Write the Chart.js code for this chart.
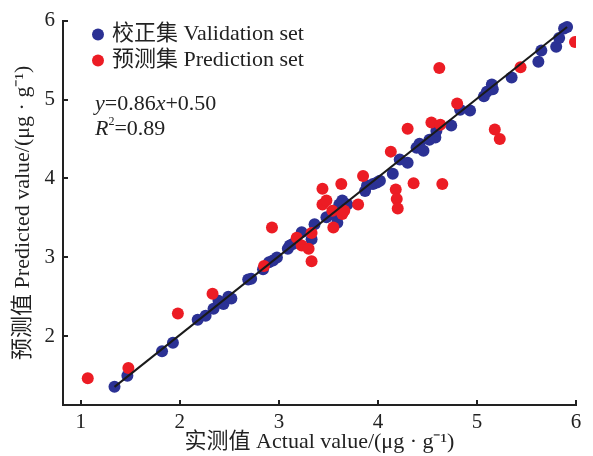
<!DOCTYPE html>
<html>
<head>
<meta charset="utf-8">
<script src="https://cdn.jsdelivr.net/npm/chart.js@4"></script>
<style>
    body { margin: 0; background: #fff; }
    #wrap { width: 593px; height: 456px; }
</style>
</head>
<body>
<div id="wrap"><canvas id="scatterChart" width="593" height="456"></canvas></div>
<script>
// Validation set (blue)
const valX = [1.34, 1.47, 1.82, 1.93, 2.18, 2.26, 2.34, 2.39, 2.44, 2.49, 2.52, 2.69, 2.72, 2.84, 2.90, 2.94, 2.98,
    3.09, 3.11, 3.14, 3.23, 3.33, 3.36, 3.48, 3.54, 3.59, 3.61, 3.64, 3.69, 3.87, 3.89, 3.95, 3.99, 4.02, 4.15,
    4.22, 4.30, 4.39, 4.42, 4.46, 4.52, 4.58, 4.59, 4.74, 4.83, 4.93, 5.07, 5.10, 5.15, 5.16, 5.35, 5.62, 5.65,
    5.80, 5.83, 5.88, 5.91];
const valY = [1.36, 1.50, 1.81, 1.92, 2.21, 2.26, 2.35, 2.45, 2.41, 2.50, 2.48, 2.72, 2.73, 2.85, 2.94, 2.96, 3.00,
    3.11, 3.15, 3.17, 3.32, 3.23, 3.42, 3.51, 3.55, 3.44, 3.67, 3.72, 3.67, 3.84, 3.91, 3.93, 3.95, 3.97, 4.06,
    4.24, 4.20, 4.39, 4.44, 4.35, 4.49, 4.52, 4.60, 4.67, 4.87, 4.86, 5.04, 5.10, 5.19, 5.13, 5.28, 5.48, 5.62,
    5.67, 5.78, 5.90, 5.92];

// Prediction set (red)
const predX = [1.07, 1.48, 1.98, 2.33, 2.85, 2.93, 3.18, 3.23, 3.30, 3.33, 3.33, 3.44, 3.44, 3.48, 3.54, 3.55,
    3.63, 3.64, 3.66, 3.80, 3.85, 4.13, 4.18, 4.19, 4.20, 4.30, 4.36, 4.54, 4.63, 4.62, 4.65, 4.80, 5.18, 5.23,
    5.44, 5.99];
const predY = [1.47, 1.60, 2.29, 2.54, 2.89, 3.38, 3.25, 3.15, 3.11, 3.31, 2.95, 3.87, 3.67, 3.72, 3.59, 3.38,
    3.93, 3.55, 3.59, 3.67, 4.03, 4.34, 3.86, 3.74, 3.62, 4.63, 3.94, 4.71, 4.68, 5.40, 3.93, 4.95, 4.62, 4.50,
    5.41, 5.73];

// fitted line end points
const lineX = [1.34, 5.91];
const lineY = [1.36, 5.92];

const xTicks = [1, 2, 3, 4, 5, 6];
const yTicks = [2, 3, 4, 5, 6];

const BLUE = 'rgb(43, 49, 148)';
const RED = 'rgb(236, 28, 36)';
const INK = '#222';
const SERIF = "'Liberation Serif', 'Times New Roman', 'Noto Sans CJK SC', serif";

function toPoints(xs, ys) {
    return xs.map((x, i) => ({ x: x, y: ys[i] }));
}

// inward tick marks, legend and equation text
const extras = {
    id: 'extras',
    afterDraw(chart) {
        const ctx = chart.ctx;
        const xs = chart.scales.x;
        const ys = chart.scales.y;
        const area = chart.chartArea;
        ctx.save();
        ctx.strokeStyle = INK;
        ctx.lineWidth = 2;
        xTicks.forEach(v => {
            const px = Math.round(xs.getPixelForValue(v));
            ctx.beginPath();
            ctx.moveTo(px, area.bottom);
            ctx.lineTo(px, area.bottom - 5);
            ctx.stroke();
        });
        yTicks.forEach(v => {
            const py = Math.round(ys.getPixelForValue(v));
            ctx.beginPath();
            ctx.moveTo(area.left, py);
            ctx.lineTo(area.left + 5, py);
            ctx.stroke();
        });

        // legend
        const lx = area.left + 35;
        const rows = [
            { color: BLUE, text: '校正集 Validation set', y: area.top + 14 },
            { color: RED, text: '预测集 Prediction set', y: area.top + 40 }
        ];
        ctx.textBaseline = 'middle';
        ctx.textAlign = 'left';
        ctx.font = "22px " + SERIF;
        rows.forEach(r => {
            ctx.fillStyle = r.color;
            ctx.beginPath();
            ctx.arc(lx, r.y, 6, 0, Math.PI * 2);
            ctx.fill();
            ctx.fillStyle = INK;
            ctx.fillText(r.text, lx + 14, r.y);
        });

        // equation
        let ex = area.left + 32;
        const ey = area.top + 84;
        const parts = [
            ['y', true], ['=0.86', false], ['x', true], ['+0.50', false]
        ];
        parts.forEach(p => {
            ctx.font = (p[1] ? 'italic ' : '') + '22px ' + SERIF;
            ctx.fillText(p[0], ex, ey);
            ex += ctx.measureText(p[0]).width;
        });
        let rx = area.left + 32;
        const ry = area.top + 109;
        ctx.font = 'italic 22px ' + SERIF;
        ctx.fillText('R', rx, ry);
        rx += ctx.measureText('R').width;
        ctx.font = '12px ' + SERIF;
        ctx.fillText('2', rx, ry - 8);
        rx += ctx.measureText('2').width;
        ctx.font = '22px ' + SERIF;
        ctx.fillText('=0.89', rx, ry);
        ctx.restore();
    }
};

const ctx = document.getElementById('scatterChart').getContext('2d');
const scatterChart = new Chart(ctx, {
    type: 'scatter',
    data: {
        datasets: [
            {
                type: 'line',
                label: 'fit',
                data: toPoints(lineX, lineY),
                borderColor: '#1a1a1a',
                borderWidth: 2,
                pointRadius: 0,
                fill: false,
                order: 0
            },
            {
                label: '预测集 Prediction set',
                data: toPoints(predX, predY),
                backgroundColor: RED,
                borderWidth: 0,
                pointRadius: 6,
                order: 1
            },
            {
                label: '校正集 Validation set',
                data: toPoints(valX, valY),
                backgroundColor: BLUE,
                borderWidth: 0,
                pointRadius: 6,
                order: 2
            }
        ]
    },
    options: {
        responsive: false,
        animation: false,
        layout: { padding: { top: 20, right: 17, left: 0, bottom: 0 } },
        plugins: {
            legend: { display: false },
            tooltip: { enabled: false }
        },
        scales: {
            x: {
                type: 'linear',
                min: 0.82,
                max: 6,
                afterBuildTicks: s => { s.ticks = xTicks.map(v => ({ value: v })); },
                afterFit: s => { s.height = 51; },
                grid: { display: false, drawTicks: false },
                border: { display: true, color: INK, width: 2 },
                ticks: { color: INK, padding: 5, font: { family: SERIF, size: 21 } },
                title: {
                    display: true,
                    text: '实测值 Actual value/(μg · g⁻¹)',
                    color: INK,
                    font: { family: SERIF, size: 22 },
                    padding: { top: 0, bottom: 1 }
                }
            },
            y: {
                type: 'linear',
                min: 1.13,
                max: 6,
                afterBuildTicks: s => { s.ticks = yTicks.map(v => ({ value: v })); },
                afterFit: s => { s.width = 63; },
                grid: { display: false, drawTicks: false },
                border: { display: true, color: INK, width: 2 },
                ticks: { color: INK, padding: 8, font: { family: SERIF, size: 21 } },
                title: {
                    display: true,
                    text: '预测值 Predicted value/(μg · g⁻¹)',
                    color: INK,
                    font: { family: SERIF, size: 22 },
                    padding: { top: 10, bottom: 0 }
                }
            }
        }
    },
    plugins: [extras]
});
</script>
</body>
</html>
